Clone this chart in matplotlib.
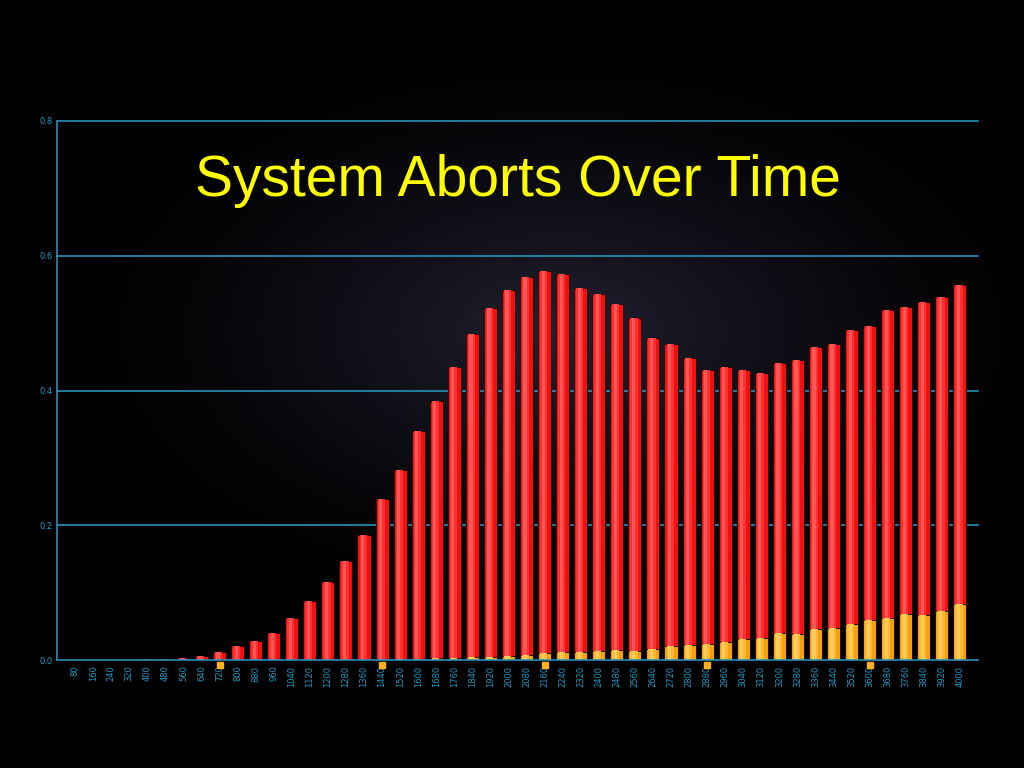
import matplotlib.pyplot as plt
import numpy as np

# x categories (time)
times = list(range(80, 4001, 80))

# total aborts (red, full bar height)
total = [0.0, 0.0, 0.0, 0.0, 0.001, 0.001, 0.003, 0.006, 0.012, 0.021,
         0.028, 0.040, 0.062, 0.088, 0.116, 0.147, 0.186, 0.239, 0.282, 0.340,
         0.384, 0.435, 0.484, 0.522, 0.549, 0.568, 0.577, 0.573, 0.552, 0.543,
         0.528, 0.508, 0.478, 0.469, 0.448, 0.430, 0.435, 0.430, 0.426, 0.441,
         0.445, 0.465, 0.469, 0.490, 0.496, 0.519, 0.524, 0.531, 0.539, 0.557]

# system aborts (orange, drawn from the bottom)
system = [0.0, 0.0, 0.0, 0.0, 0.0, 0.0, 0.0, 0.0, 0.0, 0.0,
          0.0, 0.0, 0.0, 0.0, 0.0, 0.0, 0.0, 0.001, 0.002, 0.002,
          0.003, 0.003, 0.004, 0.005, 0.006, 0.008, 0.010, 0.012, 0.012, 0.013,
          0.015, 0.014, 0.017, 0.021, 0.022, 0.024, 0.026, 0.031, 0.033, 0.040,
          0.039, 0.046, 0.048, 0.053, 0.060, 0.062, 0.068, 0.067, 0.073, 0.083]

yticks = [0.0, 0.2, 0.4, 0.6, 0.8]
blue = '#1e9ac8'
line_blue = '#2a8fb8'

fig = plt.figure(figsize=(10.24, 7.68), dpi=100, facecolor='black')

# background glow
bg = fig.add_axes([0, 0, 1, 1])
yy, xx = np.mgrid[0:768, 0:1024]
d = np.sqrt(((xx - 560) / 520.0) ** 2 + ((yy - 330) / 300.0) ** 2)
glow = np.clip(1 - d, 0, 1) ** 1.5
img = np.zeros((768, 1024, 3))
img[..., 0] = 0.13 * glow
img[..., 1] = 0.13 * glow
img[..., 2] = 0.20 * glow
bg.imshow(img, extent=[0, 1, 0, 1], aspect='auto', origin='upper')
bg.axis('off')

ax = fig.add_axes([57 / 1024, 1 - 660 / 768, (978 - 57) / 1024, (660 - 121) / 768])
ax.patch.set_alpha(0)

x = np.arange(len(times))
w = 0.72

# cylinder-like shading: base bar, then lighter narrow strips on top
ax.bar(x, total, width=w, color='#f01010', edgecolor='#200000', linewidth=0.7, zorder=3)
ax.bar(x - 0.05, total, width=w * 0.55, color='#ff3030', linewidth=0, zorder=3)
ax.bar(x - 0.08, total, width=w * 0.25, color='#ff7070', linewidth=0, alpha=0.6, zorder=3)
ax.bar(x, system, width=w, color='#f5a010', edgecolor='#201000', linewidth=0.7, zorder=4)
ax.bar(x - 0.05, system, width=w * 0.55, color='#ffb830', linewidth=0, zorder=4)
ax.bar(x - 0.08, system, width=w * 0.25, color='#ffd880', linewidth=0, alpha=0.6, zorder=4)

ax.set_xlim(-1, len(times))
ax.set_ylim(0, 0.8)
ax.set_yticks(yticks)
ax.set_yticklabels(['%.1f' % v for v in yticks])
ax.set_xticks(x)
ax.set_xticklabels([str(t) for t in times], rotation=90)
ax.tick_params(axis='both', colors=blue, labelsize=6, length=0, pad=4)
ax.tick_params(axis='y', pad=3)

for v in yticks[1:]:
    ax.axhline(v, color=line_blue, linewidth=1.2, zorder=1, clip_on=False)

for side in ['top', 'right']:
    ax.spines[side].set_visible(False)
for side in ['left', 'bottom']:
    ax.spines[side].set_color(line_blue)
    ax.spines[side].set_linewidth(1.2)
    ax.spines[side].set_zorder(5)

# small orange markers under the axis every 9th category
for i in range(8, len(times), 9):
    ax.plot(i, -0.007, marker='s', markersize=4, color='#ffb020',
            clip_on=False, zorder=6)

ax.text(0.5, 0.888, 'System Aborts Over Time', transform=ax.transAxes,
        ha='center', va='center', color='#ffff00', fontsize=41,
        family=['Liberation Sans', 'DejaVu Sans'])

fig.savefig('out.png', dpi=100, facecolor='black')
